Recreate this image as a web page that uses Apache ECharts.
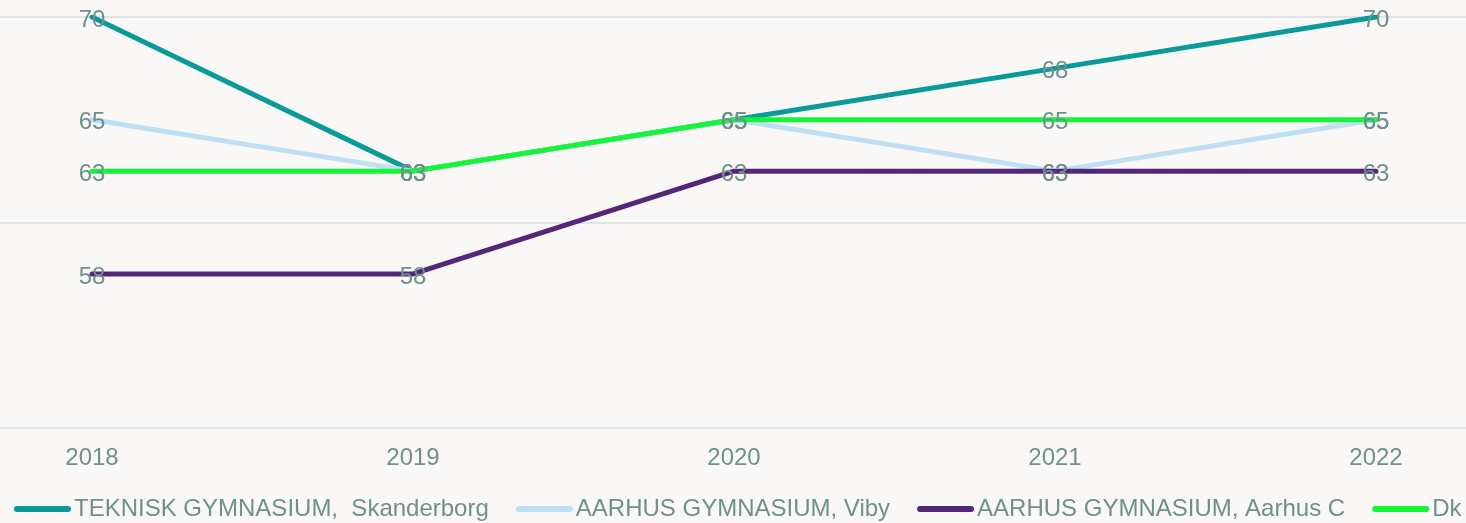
<!DOCTYPE html>
<html>
<head>
<meta charset="utf-8">
<script src="https://cdn.jsdelivr.net/npm/echarts@6/dist/echarts.min.js"></script>
<style>
  html, body { margin: 0; padding: 0; background: #f9f8f7; }
  #chart { width: 1466px; height: 523px; }
</style>
</head>
<body>
<div id="chart"></div>
<script>
const years = ["2018", "2019", "2020", "2021", "2022"]

const teknisk = [70, 62.5, 65, 67.5, 70]
const viby = [65, 62.5, 65, 62.5, 65]
const aarhusC = [57.5, 57.5, 62.5, 62.5, 62.5]
const dk = [62.5, 62.5, 65, 65, 65]

const names = [
  "TEKNISK GYMNASIUM,  Skanderborg",
  "AARHUS GYMNASIUM, Viby",
  "AARHUS GYMNASIUM, Aarhus C",
  "Dk"
]
const colors = ["#0a9a9a", "#bfe0f4", "#54267a", "#14f53a"]

const textColor = "#6e918c"
const font = "Liberation Sans, Arial, sans-serif"

const chart = echarts.init(document.getElementById("chart"))

function lineSeries(name, data, color) {
  return {
    name: name,
    type: "line",
    xAxisIndex: 1,
    yAxisIndex: 1,
    data: data,
    symbol: "circle",
    symbolSize: 1,
    itemStyle: { color: color },
    lineStyle: { color: color, width: 5, cap: "round" },
    label: {
      show: true,
      position: "inside",
      offset: [0, 3],
      formatter: p => String(Math.round(p.value)),
      color: textColor,
      fontSize: 24,
      fontFamily: font
    },
    emphasis: { disabled: true },
    animation: false
  }
}

chart.setOption({
  backgroundColor: "#f9f8f7",
  grid: [
    { left: 0, right: 0, top: 17, bottom: 95 },
    { left: 92, right: 90, top: 17, bottom: 95 }
  ],
  xAxis: [
    { gridIndex: 0, type: "category", data: years, show: false },
    {
      gridIndex: 1,
      type: "category",
      data: years,
      boundaryGap: false,
      axisLine: { show: false },
      axisTick: { show: false },
      axisLabel: { color: textColor, fontSize: 24, fontFamily: font, margin: 18 }
    }
  ],
  yAxis: [
    {
      gridIndex: 0,
      type: "value",
      min: 50,
      max: 70,
      interval: 10,
      axisLabel: { show: false },
      axisLine: { show: false },
      axisTick: { show: false },
      splitLine: { lineStyle: { color: "#dde6e5", width: 2 } }
    },
    {
      gridIndex: 1,
      type: "value",
      min: 50,
      max: 70,
      show: false
    }
  ],
  legend: {
    bottom: 2,
    left: 14,
    width: 1452,
    padding: 0,
    itemWidth: 57,
    itemHeight: 6,
    itemGap: 27,
    icon: "path://M3,0 L54,0 A3,3 0 0 1 54,6 L3,6 A3,3 0 0 1 3,0 Z",
    textStyle: { color: textColor, fontSize: 24, fontFamily: font, padding: [0, 0, 0, -2] },
    data: names
  },
  series: [
    lineSeries(names[0], teknisk, colors[0]),
    lineSeries(names[1], viby, colors[1]),
    lineSeries(names[2], aarhusC, colors[2]),
    lineSeries(names[3], dk, colors[3])
  ]
})

window.addEventListener("resize", () => chart.resize())
</script>
</body>
</html>
